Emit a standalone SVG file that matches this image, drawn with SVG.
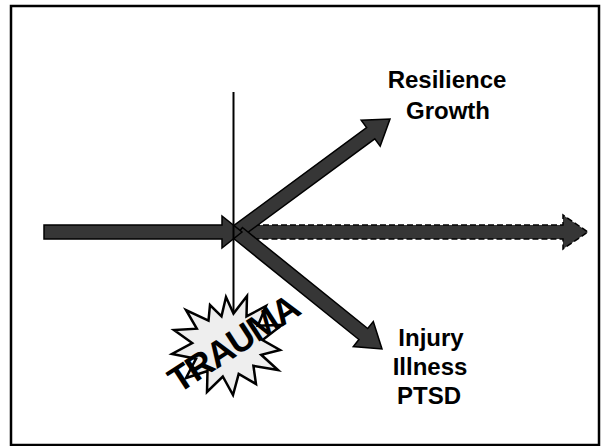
<svg xmlns="http://www.w3.org/2000/svg" width="602" height="446" viewBox="0 0 602 446">
  <style>
    .arrow { fill: #363636; stroke: #000; stroke-width: 1.5; stroke-linejoin: miter; }
    .dashed { stroke-dasharray: 6 3; }
    .label { font-family: "Liberation Sans", Arial, sans-serif; font-weight: bold; font-size: 24px; fill: #000; text-anchor: middle; }
  </style>
  <rect x="11" y="6" width="588" height="439" fill="#fff" stroke="#000" stroke-width="2.5"/>
  <g id="connectors">
    <polygon id="dashed-arrow" class="arrow dashed" points="236,225 563,225 563,215 588,232 563,249 563,239 236,239"/>
    <polygon id="up-arrow" class="arrow" points="242.1,236.6 374.8,138.8 380.2,146.1 390,119 361.2,120.3 366.6,127.6 233.9,225.4"/>
    <polygon id="down-arrow" class="arrow" points="242.4,227.5 367.7,328.5 373.3,321.5 382,349 353.3,346.5 358.9,339.5 233.6,238.5"/>
    <polygon id="main-arrow" class="arrow" points="44,225 222,225 222,216 242,232 222,248 222,239 44,239"/>
    <line id="timeline" x1="233.5" y1="92" x2="233.5" y2="320" stroke="#000" stroke-width="2"/>
  </g>
  <g id="trauma">
    <polygon points="247,296 246.5,316.4 266,306 257.9,325.8 282,325 262.5,340.1 280,350 261.2,354.8 278,370 253.4,365.8 256,384 238.7,373.9 233,395 222.8,376.5 207,392 207.5,371 186,378 196.1,358.7 172,354 192.2,343 174,330 196.8,328.7 186,310 208.5,320.6 210,305 221.5,316.4 226,297 233.5,313.5" fill="#eeeeee" stroke="#000" stroke-width="2.5" stroke-linejoin="miter"/>
    <text x="233" y="356" transform="rotate(-33 233 343)" font-family="Liberation Sans, Arial, sans-serif" font-weight="bold" font-size="36" text-anchor="middle" letter-spacing="-1.5">TRAUMA</text>
  </g>
  <g id="resilience">
    <text class="label" x="447" y="88">Resilience</text>
    <text class="label" x="448" y="119">Growth</text>
  </g>
  <g id="injury">
    <text class="label" x="431" y="346">Injury</text>
    <text class="label" x="430" y="375">Illness</text>
    <text class="label" x="429" y="404">PTSD</text>
  </g>
</svg>
